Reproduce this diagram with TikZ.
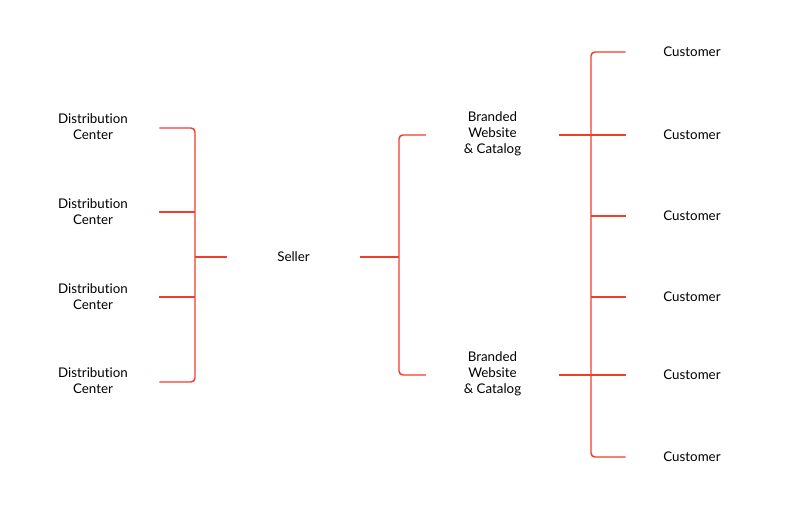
\documentclass[tikz,border=0pt]{standalone}
\usepackage{fontspec}
\setmainfont[Ligatures=NoCommon]{Lato}
\definecolor{rojo}{RGB}{240,62,45}

\begin{document}
\begin{tikzpicture}[x=0.75pt, y=-0.75pt,
		every node/.style = {align=center, inner sep=0pt, minimum width=99pt, font=\fontsize{10}{11.8}\selectfont},
		link/.style = {draw=rojo, line width=1.1pt, rounded corners=3pt}]
	\useasboundingbox (0,0) rectangle (792,509);
	\node (dc1) at (93,127) {Distribution\\Center};
	\node (dc2) at (93,212) {Distribution\\Center};
	\node (dc3) at (93,297) {Distribution\\Center};
	\node (dc4) at (93,381) {Distribution\\Center};
	\node (seller) at (293.5,257) {Seller};
	\node (web1) at (492.5,134) {Branded\\Website\\\& Catalog};
	\node (web2) at (492.5,374) {Branded\\Website\\\& Catalog};
	\foreach \y [count=\i] in {52,135,216,297,375,457}
		\node (cust\i) at (692,\y) {Customer};
	\coordinate (spineL) at (195,257);
	\coordinate (spineM) at (399,257);
	\coordinate (spineR) at (591,257);
	\draw[link] (dc1.east) ++(0,1) -| (spineL) |- ([yshift=-0.75pt]dc4.east);
	\draw[link] (dc2.east) -- (dc2.east -| spineL);
	\draw[link] (dc3.east) -- (dc3.east -| spineL);
	\draw[link] (spineL) -- (seller.west);
	\draw[link] (seller.east) -- (spineM);
	\draw[link] ([yshift=-0.75pt]web1.west) -| (spineM) |- ([yshift=-0.75pt]web2.west);
	\draw[link] (cust1.west) -| (spineR) |- (cust6.west);
	\draw[link] ([yshift=-0.75pt]web1.east) -- ([yshift=-0.75pt]web1.east -| cust2.west);
	\draw[link] ([yshift=-0.75pt]web2.east) -- ([yshift=-0.75pt]web2.east -| cust5.west);
	\draw[link] (cust3.west) -- (cust3.west -| spineR);
	\draw[link] (cust4.west) -- (cust4.west -| spineR);
\end{tikzpicture}
\end{document}
